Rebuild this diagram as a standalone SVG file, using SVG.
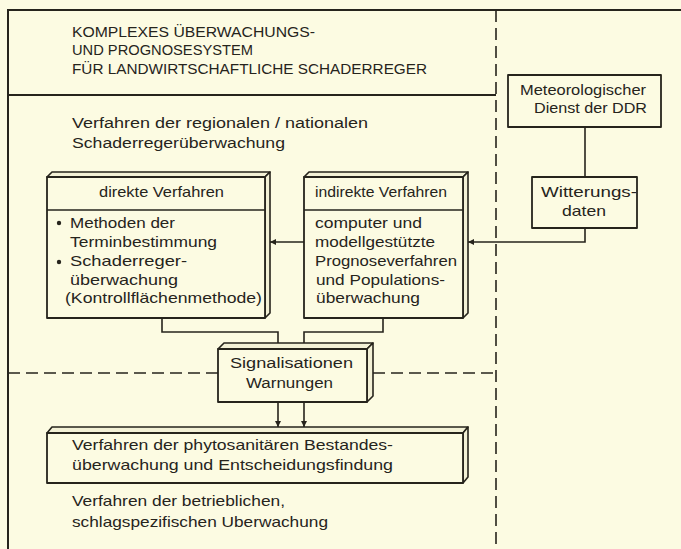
<svg xmlns="http://www.w3.org/2000/svg" width="681" height="549" viewBox="0 0 681 549">
<style>
text{font-family:"Liberation Sans","DejaVu Sans",Arial,sans-serif;fill:#26241c}
.t{font-size:14px}
.h{font-size:15.5px}
.b{font-size:14.5px}
.frame{fill:none;stroke:#26241c;stroke-width:2}
.box{fill:#fcfbe2;stroke:#26241c;stroke-width:1.8;stroke-linejoin:round}
.face{fill:#f3f1d6;stroke:#26241c;stroke-width:1.6;stroke-linejoin:round}
.dash{fill:none;stroke:#26241c;stroke-width:1.6;stroke-dasharray:12 6}
.con{fill:none;stroke:#26241c;stroke-width:1.6}
</style>
<defs>
<marker id="ah" viewBox="0 0 10 10" refX="10" refY="5" markerWidth="8" markerHeight="6" markerUnits="userSpaceOnUse" orient="auto">
<path d="M0,0 L10,5 L0,10 Z" fill="#26241c"/>
</marker>
</defs>
<rect width="681" height="549" fill="#fcfbe2"/>
<g id="frame">
<path class="frame" d="M8,549 V10 H681"/>
<path class="frame" d="M8,95 H496"/>
<path class="dash" d="M496,10 V549"/>
<path class="dash" d="M8,373 H218 M373,373 H496"/>
</g>
<g id="title">
<text class="t" x="72" y="37" textLength="243" lengthAdjust="spacingAndGlyphs">KOMPLEXES ÜBERWACHUNGS-</text>
<text class="t" x="72" y="55" textLength="181" lengthAdjust="spacingAndGlyphs">UND PROGNOSESYSTEM</text>
<text class="t" x="72" y="74" textLength="355" lengthAdjust="spacingAndGlyphs">FÜR LANDWIRTSCHAFTLICHE SCHADERREGER</text>
</g>
<g id="regional-label">
<text class="h" x="72" y="128" textLength="296" lengthAdjust="spacingAndGlyphs">Verfahren der regionalen / nationalen</text>
<text class="h" x="72" y="148" textLength="213" lengthAdjust="spacingAndGlyphs">Schaderregerüberwachung</text>
</g>
<g id="meteo">
<rect class="box" x="508" y="75" width="153" height="52"/>
<text class="b" x="520" y="95" textLength="126" lengthAdjust="spacingAndGlyphs">Meteorologischer</text>
<text class="b" x="534" y="113" textLength="113" lengthAdjust="spacingAndGlyphs">Dienst der DDR</text>
</g>
<g id="witterung">
<rect class="box" x="532" y="177" width="105" height="51"/>
<text class="b" x="541" y="197" textLength="96" lengthAdjust="spacingAndGlyphs">Witterungs-</text>
<text class="b" x="562" y="216" textLength="44" lengthAdjust="spacingAndGlyphs">daten</text>
</g>
<g id="direkt">
<path class="face" d="M47,177 L52,172 H270 L265,177 Z"/>
<path class="face" d="M265,177 L270,172 V313 L265,318 Z"/>
<rect class="box" x="47" y="177" width="218" height="141"/>
<path class="con" d="M47,210 H265"/>
<text class="b" x="99" y="197" textLength="125" lengthAdjust="spacingAndGlyphs">direkte Verfahren</text>
<circle cx="59" cy="223" r="2.2" fill="#26241c"/>
<circle cx="59" cy="262" r="2.2" fill="#26241c"/>
<text class="b" x="70" y="228" textLength="105" lengthAdjust="spacingAndGlyphs">Methoden der</text>
<text class="b" x="70" y="247" textLength="147" lengthAdjust="spacingAndGlyphs">Terminbestimmung</text>
<text class="b" x="70" y="266" textLength="117" lengthAdjust="spacingAndGlyphs">Schaderreger-</text>
<text class="b" x="70" y="285" textLength="108" lengthAdjust="spacingAndGlyphs">überwachung</text>
<text class="b" x="65" y="303" textLength="197" lengthAdjust="spacingAndGlyphs">(Kontrollflächenmethode)</text>
</g>
<g id="indirekt">
<path class="face" d="M304,177 L309,172 H468 L463,177 Z"/>
<path class="face" d="M463,177 L468,172 V313 L463,318 Z"/>
<rect class="box" x="304" y="177" width="159" height="141"/>
<path class="con" d="M304,210 H463"/>
<text class="b" x="315" y="197" textLength="132" lengthAdjust="spacingAndGlyphs">indirekte Verfahren</text>
<text class="b" x="315" y="228" textLength="107" lengthAdjust="spacingAndGlyphs">computer und</text>
<text class="b" x="315" y="247" textLength="120" lengthAdjust="spacingAndGlyphs">modellgestützte</text>
<text class="b" x="315" y="266" textLength="142" lengthAdjust="spacingAndGlyphs">Prognoseverfahren</text>
<text class="b" x="316" y="285" textLength="129" lengthAdjust="spacingAndGlyphs">und Populations-</text>
<text class="b" x="316" y="303" textLength="104" lengthAdjust="spacingAndGlyphs">überwachung</text>
</g>
<g id="signal">
<path class="face" d="M218,349 L224,343 H373 L367,349 Z"/>
<path class="face" d="M367,349 L373,343 V396 L367,402 Z"/>
<rect class="box" x="218" y="349" width="149" height="53"/>
<text class="h" x="230" y="368" textLength="123" lengthAdjust="spacingAndGlyphs">Signalisationen</text>
<text class="h" x="246" y="388" textLength="87" lengthAdjust="spacingAndGlyphs">Warnungen</text>
</g>
<g id="bestand">
<path class="face" d="M47,433 L52,427 H468 L463,433 Z"/>
<path class="face" d="M463,433 L468,427 V477 L463,483 Z"/>
<rect class="box" x="47" y="433" width="416" height="50"/>
<text class="b" x="72" y="450" textLength="321" lengthAdjust="spacingAndGlyphs">Verfahren der phytosanitären Bestandes-</text>
<text class="b" x="72" y="470" textLength="321" lengthAdjust="spacingAndGlyphs">überwachung und Entscheidungsfindung</text>
</g>
<g id="betrieb-label">
<text class="b" x="72" y="506" textLength="213" lengthAdjust="spacingAndGlyphs">Verfahren der betrieblichen,</text>
<text class="b" x="72" y="527" textLength="256" lengthAdjust="spacingAndGlyphs">schlagspezifischen Uberwachung</text>
</g>
<g id="connectors">
<path class="con" d="M585,127 V177"/>
<path class="con" d="M585,228 V242 H468" marker-end="url(#ah)"/>
<path class="con" d="M304,242 H270" marker-end="url(#ah)"/>
<path class="con" d="M162,318 V332 H278 V343"/>
<path class="con" d="M383,318 V332 H304 V343"/>
<path class="con" d="M278,402 V427" marker-end="url(#ah)"/>
<path class="con" d="M304,402 V427" marker-end="url(#ah)"/>
</g>
</svg>
